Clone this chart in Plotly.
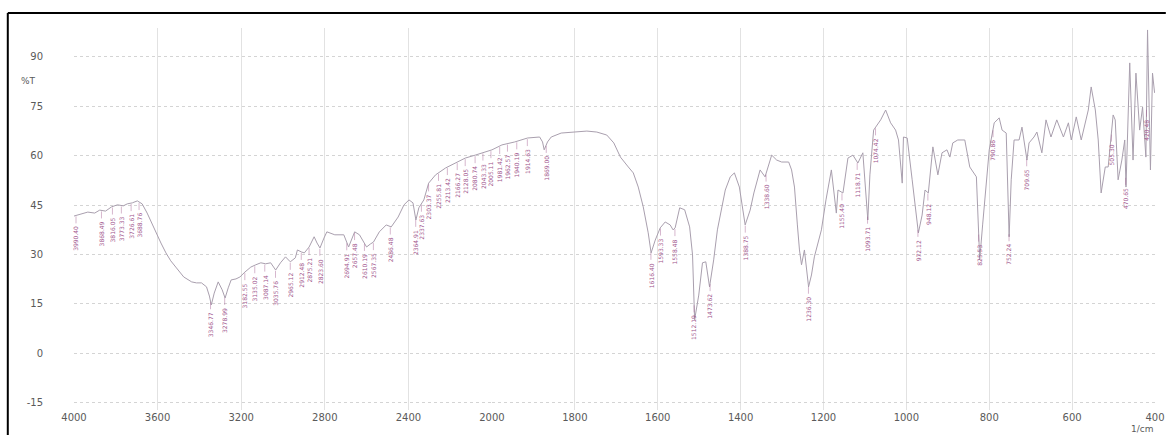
import numpy as np
import plotly.graph_objects as go

# ---------------- data ----------------
wavenumber = [4000, 3972, 3934, 3901, 3877, 3849, 3820, 3792, 3764, 3745, 3721, 3697, 3683, 3674,
              3650, 3631, 3608, 3584, 3560, 3537, 3513, 3475, 3437, 3414, 3390, 3366, 3352, 3343,
              3329, 3310, 3291, 3277, 3262, 3248, 3225, 3206, 3182, 3154, 3130, 3106, 3083, 3059,
              3035, 3012, 2988, 2965, 2941, 2931, 2912, 2898, 2875, 2851, 2837, 2823, 2804, 2790,
              2752, 2709, 2686, 2657, 2634, 2615, 2600, 2582, 2567, 2539, 2506, 2482, 2449, 2421,
              2397, 2378, 2364, 2350, 2326, 2303, 2270, 2222, 2175, 2128, 2080, 2033, 2000,
              1976, 1945, 1914, 1885, 1878, 1874, 1866, 1857, 1833, 1802, 1771, 1747, 1723, 1706,
              1690, 1671, 1659, 1647, 1635, 1623, 1616, 1606, 1594, 1582, 1570, 1563, 1558, 1547,
              1535, 1523, 1516, 1511, 1501, 1492, 1484, 1475, 1465, 1456, 1437, 1425, 1415, 1403,
              1389, 1377, 1368, 1353, 1341, 1325, 1313, 1301, 1284, 1277, 1270, 1263, 1258, 1253,
              1246, 1236, 1229, 1222, 1205, 1194, 1181, 1169, 1165, 1153, 1141, 1129, 1117, 1105,
              1098, 1093, 1088, 1079, 1062, 1050, 1038, 1026, 1019, 1010, 1007, 998, 986, 971,
              962, 955, 947, 936, 924, 914, 902, 895, 888, 876, 859, 847, 831, 823, 816, 811,
              800, 788, 776, 769, 759, 752, 747, 740, 728, 721, 709, 704, 692, 685, 673, 663,
              651, 637, 621, 609, 602, 590, 578, 561, 554, 544, 537, 530, 520, 513, 501, 496,
              489, 480, 473, 470, 461, 453, 446, 437, 430, 422, 418, 411, 406, 401]
transmittance = [41.7, 42.3, 42.9, 42.6, 43.5, 43.2, 44.5, 45.1, 44.8, 45.4, 45.7, 46.3, 45.7, 45.4,
                 42.6, 39.9, 36.6, 33.5, 30.5, 28.1, 26.2, 23.2, 21.7, 21.4, 21.4, 20.2, 17.4, 14.7,
                 18.3, 21.7, 19.3, 16.8, 19.9, 22.3, 22.6, 23.2, 24.7, 26.2, 26.9, 27.5, 27.2, 27.5,
                 25.3, 27.5, 29.3, 27.8, 29.0, 31.4, 30.8, 30.5, 32.3, 35.4, 33.5, 32.0, 35.0, 36.9,
                 36.0, 36.0, 32.3, 36.9, 36.0, 34.1, 32.3, 33.2, 33.8, 36.9, 39.0, 38.4, 41.4, 45.1,
                 46.6, 45.7, 40.5, 44.2, 46.6, 51.7, 54.2, 56.3, 57.8, 59.3, 60.2, 61.2, 61.8,
                 63.3, 64.2, 65.4, 65.7, 64.2, 61.8, 64.2, 65.7, 66.9, 67.2, 67.5, 67.2, 66.3, 63.9,
                 59.6, 56.6, 54.8, 50.5, 44.5, 36.6, 30.5, 34.4, 38.1, 39.9, 39.0, 37.5, 38.1, 44.2,
                 43.6, 38.4, 29.9, 10.2, 17.7, 27.5, 27.8, 20.2, 28.4, 37.5, 49.6, 53.6, 54.8, 50.5,
                 39.0, 43.5, 48.7, 55.7, 53.6, 60.2, 58.7, 58.1, 58.1, 55.7, 50.5, 39.0, 31.4, 26.9,
                 31.4, 20.2, 23.8, 29.3, 37.5, 46.6, 55.7, 42.6, 49.6, 48.7, 59.3, 60.2, 57.8, 60.9,
                 49.6, 40.5, 54.2, 67.8, 70.9, 73.9, 70.0, 67.8, 64.8, 51.7, 65.7, 65.4, 52.7, 36.6,
                 42.0, 49.6, 48.7, 62.7, 54.2, 60.9, 61.8, 59.6, 63.9, 64.8, 64.8, 56.6, 53.6, 28.4, 39.0, 46.6,
                 61.8, 70.0, 71.5, 67.8, 66.9, 35.4, 52.7, 64.8, 64.8, 68.7, 58.7, 63.9, 65.7, 67.2, 60.9, 70.9,
                 65.7, 70.9, 65.7, 70.0, 64.8, 71.8, 64.8, 73.9, 80.9, 73.9, 64.8, 48.7, 56.6, 56.6, 72.4, 70.9,
                 52.7, 58.7, 64.8, 50.5, 88.2, 58.7, 85.1, 67.8, 74.8, 59.6, 98.2, 55.7, 85.1, 79.1]

peak_wn = [3990.40, 3868.49, 3816.05, 3773.33, 3726.61, 3688.76,
           3346.77, 3278.99, 3182.55, 3135.02, 3087.14, 3035.76, 2965.12, 2912.48, 2875.21,
           2823.60, 2694.91, 2657.48, 2610.19, 2567.35, 2486.48, 2364.91, 2337.63,
           2303.37, 2255.81, 2213.42, 2166.27, 2128.05, 2080.74, 2043.33, 2005.11,
           1981.42, 1962.57, 1940.19, 1914.63, 1869.00,
           1616.40, 1593.33, 1558.48, 1512.19, 1473.62, 1388.75, 1338.60, 1236.30,
           1155.40, 1118.71, 1093.71, 1074.42, 972.12, 948.12, 825.53, 790.86, 752.24,
           709.65, 505.30, 470.65, 420.48]

y_ticks = [-15, 0, 15, 30, 45, 60, 75, 90]
x_ticks_hi = [4000, 3600, 3200, 2800, 2400, 2000]
x_ticks_lo = [1800, 1600, 1400, 1200, 1000, 800, 600, 400]

# ---------------- figure ----------------
wn = np.array(wavenumber, dtype=float)
tr = np.array(transmittance, dtype=float)
hi = wn >= 2000
lo = wn <= 2000

LINE = "#a99fae"
LABEL = "#a0548c"
GRIDV = "#e2e2e2"
TICKC = "#5a5a5a"
FONT = "DejaVu Sans"

YR = [-17.2, 98.8]
PLOT_H = 382.0
unit_per_px = (YR[1] - YR[0]) / PLOT_H

fig = go.Figure()
fig.add_trace(go.Scatter(x=wn[hi], y=tr[hi], mode="lines", xaxis="x", yaxis="y",
                         line=dict(color=LINE, width=1), showlegend=False, hoverinfo="skip"))
fig.add_trace(go.Scatter(x=wn[lo], y=tr[lo], mode="lines", xaxis="x2", yaxis="y",
                         line=dict(color=LINE, width=1), showlegend=False, hoverinfo="skip"))

# peak marker ticks and labels
wn_sorted = wn[::-1]
tr_sorted = tr[::-1]
gap_top = 1.0 * unit_per_px
tick_len = 7.0 * unit_per_px
seg = {"x": ([], []), "x2": ([], [])}
annotations = []
for p in peak_wn:
    ax = "x" if p >= 2000 else "x2"
    yv = float(np.interp(p, wn_sorted, tr_sorted))
    xs, ys = seg[ax]
    xs += [p, p, None]
    ys += [yv - gap_top, yv - gap_top - tick_len, None]
    annotations.append(dict(
        x=p, y=yv - gap_top - tick_len, xref=ax, yref="y",
        text=f"{p:.2f}", textangle=-90, showarrow=False,
        xanchor="center", yanchor="top", yshift=-1,
        font=dict(family=FONT, size=6, color=LABEL)))
for ax, (xs, ys) in seg.items():
    fig.add_trace(go.Scatter(x=xs, y=ys, mode="lines", xaxis=ax, yaxis="y",
                             line=dict(color=LABEL, width=0.6), showlegend=False,
                             hoverinfo="skip", opacity=0.7))

split = (497 - 74) / 1094.0

xaxis_common = dict(showgrid=True, gridcolor=GRIDV, gridwidth=1,
                    zeroline=False, showline=False, ticks="",
                    tickfont=dict(family=FONT, size=10, color=TICKC))

fig.update_layout(
    width=1173, height=435,
    margin=dict(l=74, r=5, t=28, b=25),
    paper_bgcolor="white", plot_bgcolor="white",
    xaxis=dict(domain=[0, split], range=[4000, 2000], tickvals=x_ticks_hi,
               ticktext=[str(v) for v in x_ticks_hi], anchor="y", **xaxis_common),
    xaxis2=dict(domain=[split, 1], range=[2000, 400], tickvals=x_ticks_lo,
                ticktext=[str(v) for v in x_ticks_lo], anchor="y", **xaxis_common),
    yaxis=dict(range=YR, tickvals=y_ticks, ticktext=[str(v) for v in y_ticks],
               ticklabelstandoff=30, showgrid=True, gridcolor="#d4d4d4", griddash="dot",
               gridwidth=1, zeroline=False, showline=False, ticks="",
               tickfont=dict(family=FONT, size=10, color=TICKC)),
    font=dict(family=FONT),
)

annotations.append(dict(x=-0.033, y=82.7, xref="paper", yref="y", text="%T",
                        showarrow=False, xanchor="right",
                        font=dict(family=FONT, size=9, color=TICKC)))
annotations.append(dict(x=1.0, y=-0.05, xref="paper", yref="paper", text="1/cm",
                        showarrow=False, xanchor="right", yanchor="middle",
                        font=dict(family=FONT, size=9, color=TICKC)))
fig.update_layout(annotations=annotations)

# scanned page frame (top and left edges)
fig.add_shape(type="line", xref="paper", yref="paper", x0=(7 - 74) / 1094, x1=1.01,
              y0=1 + 15 / 382, y1=1 + 15 / 382, line=dict(color="black", width=2))
fig.add_shape(type="line", xref="paper", yref="paper", x0=(7 - 74) / 1094, x1=(7 - 74) / 1094,
              y0=1 + 15 / 382, y1=-0.07, line=dict(color="black", width=2))

# remove the default 8px page margin so the figure fills the window exactly
fig.write_html("out.html", config={"displayModeBar": False},
               post_script="document.body.style.margin='0';document.body.style.overflow='hidden';")
